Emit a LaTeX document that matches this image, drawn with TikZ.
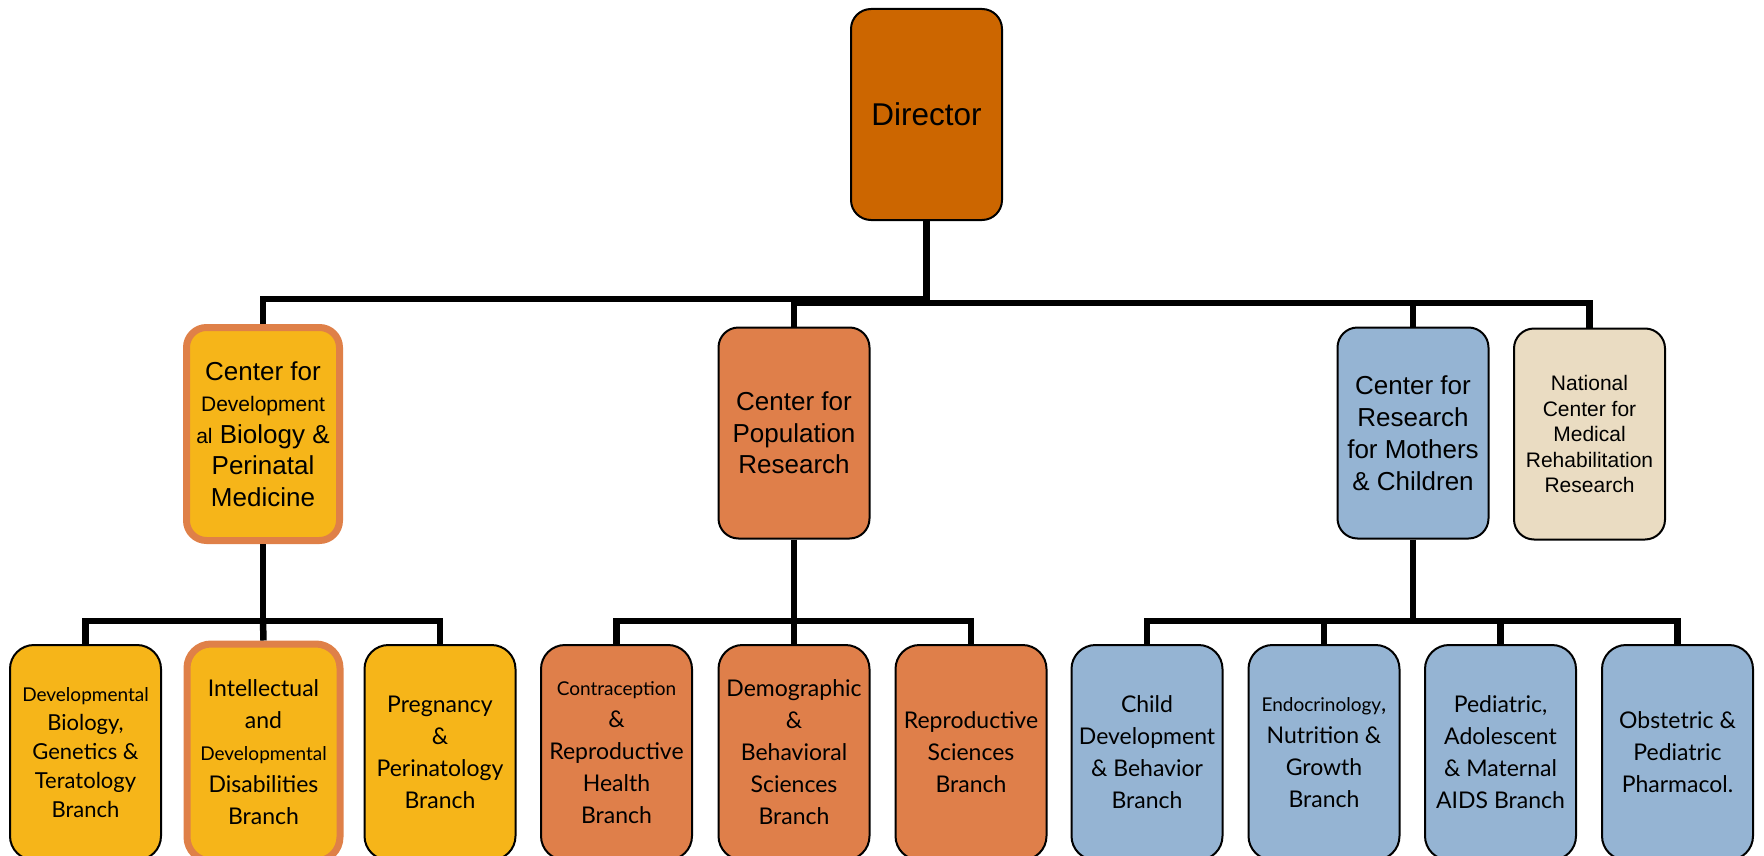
\documentclass[tikz,border=0pt]{standalone}
\usepackage{fontspec}
\setmainfont{Liberation Sans}
\newfontfamily\gfont{Lato}
\definecolor{dirc}{HTML}{CC6600}
\definecolor{yel}{HTML}{F6B519}
\definecolor{org}{HTML}{DF7F4A}
\definecolor{blu}{HTML}{95B4D3}
\definecolor{bei}{HTML}{EADCC2}
\definecolor{hl}{HTML}{DF8048}
\tikzset{
 box/.style={draw=black, line width=2pt, rounded corners=20pt, inner sep=0pt, align=center, text=black},
 lvtwo/.style={box, minimum width=151pt, minimum height=211pt, font=\fontsize{26}{31.5}\selectfont},
 lvthree/.style={box, minimum width=151pt, minimum height=215pt, rounded corners=24pt, font=\gfont\fontsize{23}{32}\selectfont},
 hilite/.style={draw=hl, line width=7pt},
 conn/.style={line width=6.5pt, draw=black, line join=miter},
}
\newcommand{\sm}[1]{{\fontsize{19}{32}\selectfont #1}}
\begin{document}
\begin{tikzpicture}[x=1pt,y=-1pt]
\useasboundingbox (0,0) rectangle (1764,856);
\clip (0,0) rectangle (1764,856);
% Director
\node[box, fill=dirc, minimum width=151pt, minimum height=211pt, font=\fontsize{31.5}{36}\selectfont] (dir) at (926.5,114.5) {Director};
% level 2
\node[lvtwo, fill=yel, hilite, minimum width=153pt, minimum height=213pt] (cdb) at (263,434)
 {Center for\\{\fontsize{21}{30.5}\selectfont Development}\\{\fontsize{21}{30.5}\selectfont al} Biology \&\\Perinatal\\Medicine};
\node[lvtwo, fill=org] (cpr) at (794,433) {Center for\\Population\\Research};
\node[lvtwo, fill=blu, font=\fontsize{26}{32}\selectfont] (crm) at (1413,433) {Center for\\Research\\for Mothers\\\& Children};
\node[lvtwo, fill=bei, font=\fontsize{21}{25.5}\selectfont] (ncm) at (1589.5,434) {National\\Center for\\Medical\\Rehabilitation\\Research};
% level 3
\node[lvthree, fill=yel, font=\gfont\fontsize{22}{29}\selectfont] (a1) at (85.5,752.5) {{\fontsize{19}{29}\selectfont Developmental}\\Biology,\\Genetics \&\\Teratology\\Branch};
\node[lvthree, fill=yel, hilite, minimum width=153pt, minimum height=217pt] (a2) at (263.5,752.5) {Intellectual\\and\\\sm{Developmental}\\Disabilities\\Branch};
\node[lvthree, fill=yel] (a3) at (440,752.5) {Pregnancy\\\&\\Perinatology\\Branch};
\node[lvthree, fill=org] (b1) at (616.5,752.5) {\sm{Contraception}\\\&\\Reproductive\\Health\\Branch};
\node[lvthree, fill=org] (b2) at (794,752.5) {Demographic\\\&\\Behavioral\\Sciences\\Branch};
\node[lvthree, fill=org] (b3) at (971,752.5) {Reproductive\\Sciences\\Branch};
\node[lvthree, fill=blu] (c1) at (1147,752.5) {Child\\Development\\\& Behavior\\Branch};
\node[lvthree, fill=blu] (c2) at (1324,752.5) {\sm{Endocrinology},\\Nutrition \&\\Growth\\Branch};
\node[lvthree, fill=blu] (c3) at (1500.5,752.5) {Pediatric,\\Adolescent\\\& Maternal\\AIDS Branch};
\node[lvthree, fill=blu] (c4) at (1677.5,752.5) {Obstetric \&\\Pediatric\\Pharmacol.};
% connectors
\coordinate (busl) at (926.5,299);
\coordinate (busr) at (926.5,303);
\draw[conn] (dir.south) -- (926.5,306);
\draw[conn] (cdb.north) |- (busl);
\draw[conn] (cpr.north) |- (busl);
\draw[conn] (ncm.north) |- (busr);
\draw[conn] (crm.north) -- (crm.north |- busr);
\draw[conn] (cpr.north |- busr) -- (busr);
\coordinate (j1) at (263,621);
\coordinate (j2) at (794,621);
\coordinate (j3) at (1413,621);
\draw[conn] (cdb.south) -- (j1);
\draw[conn] (a1.north) |- (j1);
\draw[conn] (a3.north) |- (j1);
\draw[conn] (a2.north) -- (j1);
\draw[conn] (cpr.south) -- (j2);
\draw[conn] (b1.north) |- (j2);
\draw[conn] (b3.north) |- (j2);
\draw[conn] (b2.north) -- (j2);
\draw[conn] (crm.south) -- (j3);
\draw[conn] (c1.north) |- (j3);
\draw[conn] (c4.north) |- (j3);
\draw[conn] (c2.north) -- (c2.north |- j3);
\draw[conn] (c3.north) -- (c3.north |- j3);
\end{tikzpicture}
\end{document}
